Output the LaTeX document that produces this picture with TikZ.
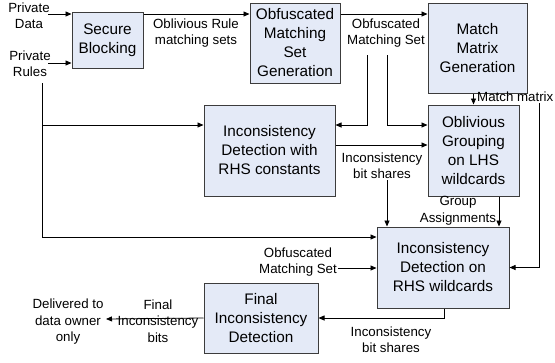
\documentclass[tikz,border=0pt]{standalone}
\usepackage{fontspec}
\setmainfont{Liberation Sans}
\usetikzlibrary{arrows.meta}
\definecolor{boxfill}{RGB}{228,234,247}
\definecolor{boxline}{RGB}{60,60,60}
\begin{document}
\begin{tikzpicture}[x=1pt,y=-1pt,
  blk/.style={draw=boxline,fill=boxfill,line width=1pt,align=center,inner sep=0pt,font=\fontsize{15.3}{19}\selectfont},
  lbl/.style={align=center,inner sep=0pt,font=\fontsize{13.3}{16.5}\selectfont},
  arr/.style={-{Triangle[length=6pt,width=5pt]},line width=0.8pt},
  ln/.style={line width=0.8pt}]
\useasboundingbox (0,0) rectangle (555,362);
% boxes
\node[blk,minimum width=71pt,minimum height=56pt] (sb) at (107.5,40) {Secure\\Blocking};
\node[blk,minimum width=90pt,minimum height=80pt] (og) at (295,43) {Obfuscated\\Matching\\Set\\Generation};
\node[blk,minimum width=99pt,minimum height=90pt] (mm) at (477.5,48) {Match\\Matrix\\Generation};
\node[blk,minimum width=131pt,minimum height=91pt] (rc) at (269.5,150.5) {Inconsistency\\Detection with\\RHS constants};
\node[blk,minimum width=91pt,minimum height=91pt] (lhs) at (473.5,150.5) {Oblivious\\Grouping\\on LHS\\wildcards};
\node[blk,minimum width=132pt,minimum height=81pt] (rw) at (443,267.5) {Inconsistency\\Detection on\\RHS wildcards};
\node[blk,minimum width=114pt,minimum height=70pt] (fin) at (261,318) {Final\\Inconsistency\\Detection};
% inputs
\node[lbl] (pd) at (29,15.5) {Private\\Data};
\coordinate (pdo) at (48,14);
\draw[arr] (pdo) -- (pdo -| sb.west);
\node[lbl] (pr) at (30,63.5) {Private\\Rules};
\coordinate (pro) at (48,63);
\draw[arr] (pro) -- (pro -| sb.west);
\coordinate (vtop) at (42,83);
\coordinate (vbot) at (42,237);
\coordinate (vmid) at (42,125);
\draw[ln] (vtop) -- (vbot);
\draw[arr] (vbot) -- (vbot -| rw.west);
\draw[arr] (vmid) -- (vmid -| rc.west);
% top row
\draw[arr] (sb.east |- 0,14) -- (og.west |- 0,14);
\draw[arr] (og.east |- 0,14) -- (mm.west |- 0,14);
\node[lbl] at (196,33) {Oblivious Rule\\matching sets};
\node[lbl] (oms1) at (386,33) {Obfuscated\\Matching Set};
\coordinate (oa) at (367,55);
\coordinate (ob) at (387,55);
\draw[arr] (oa) |- (rc.east |- 0,125);
\draw[arr] (ob) |- (lhs.west |- 0,125);
% middle
\draw[arr] (rc.east |- 0,145) -- (lhs.west |- 0,145);
\node[lbl] (ibs1) at (382,165.5) {Inconsistency\\bit shares};
\coordinate (ibd) at (387,180);
\draw[arr] (ibd) -- (ibd |- rw.north);
\draw[arr] (mm.south -| lhs.north) -- (lhs.north);
\node[lbl,anchor=west] at (477,97) {Match matrix};
\coordinate (mr) at (539,103);
\draw[arr] (mr) |- (rw.east);
\draw[arr] (lhs.south -| 499,0) -- (rw.north -| 499,0);
\node[lbl] at (458,210.5) {Group\\Assignments};
% bottom
\node[lbl] (oms2) at (298,262) {Obfuscated\\Matching Set};
\coordinate (omo) at (338,268);
\draw[arr] (omo) -- (omo -| rw.west);
\draw[arr] (rw.south -| 444,0) |- (fin.east);
\node[lbl] at (391,339.5) {Inconsistency\\bit shares};
\node[lbl] (dlv) at (68,322) {Delivered to\\data owner\\only};
\coordinate (dlve) at (106,319);
\draw[arr] (fin.west) -- (dlve);
\node[lbl] at (158,321) {Final\\Inconsistency\\bits};
\end{tikzpicture}
\end{document}
